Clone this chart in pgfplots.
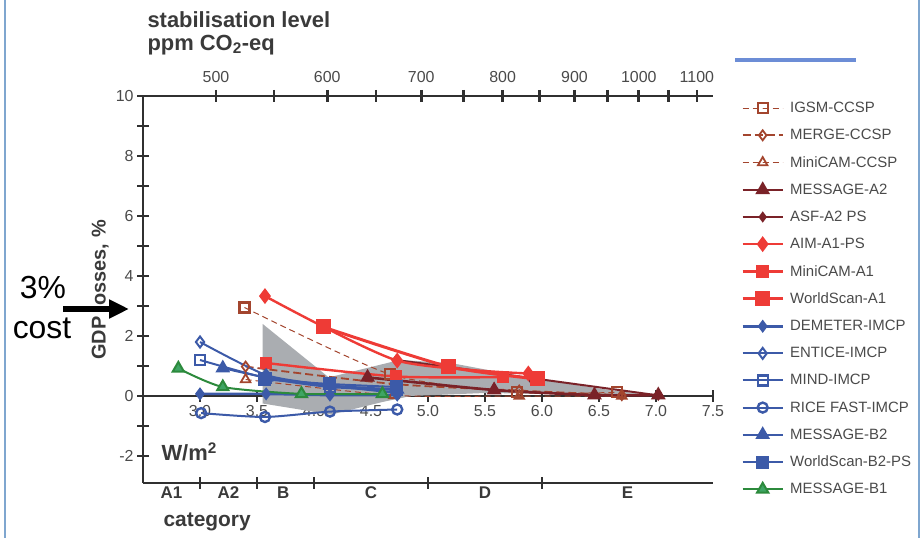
\documentclass[border=0pt]{standalone}
\usepackage{fontspec}
\setmainfont{Liberation Sans}
\usepackage{pgfplots}
\pgfplotsset{compat=1.18}
\usetikzlibrary{arrows.meta}

\definecolor{brn}{HTML}{A3452E}
\definecolor{dred}{HTML}{7A2228}
\definecolor{rd}{HTML}{EE3B36}
\definecolor{blu}{HTML}{3C5AA8}
\definecolor{grn}{HTML}{2C8A3C}
\definecolor{grnf}{HTML}{3FA564}
\definecolor{axc}{HTML}{303030}
\definecolor{txt}{HTML}{4A4A4A}
\definecolor{ttl}{HTML}{3A3A3A}
\definecolor{shade}{HTML}{AAADB1}
\definecolor{frame}{HTML}{7FA6CF}

\pgfplotsset{
  gdpframe/.style={
    at={(143bp,55bp)}, anchor=south west,
    scale only axis, width=570bp, height=387bp,
    xmin=2.5, xmax=7.5, ymin=-2.9, ymax=10,
    axis line style={line width=2.6bp, draw=axc},
    tick style={line width=2.6bp, draw=axc},
    tick align=center, major tick length=12bp, minor tick length=12bp,
    tick label style={font=\fontsize{16}{16}\selectfont, text=txt},
    /pgf/number format/assume math mode=true,
  },
  ln/.style={line width=2bp, smooth, tension=0.4},
}

\begin{document}
\begin{tikzpicture}
\useasboundingbox (0,0) rectangle (922bp,538bp);

% page decorations
\draw[frame, line width=1.5bp] (5bp,0) -- (5bp,538bp);
\draw[frame, line width=1.2bp] (919bp,0) -- (919bp,538bp);
\draw[frame!85!blue, line width=4bp] (735bp,478bp) -- (856bp,478bp);

% main axis: W/m2 line at zero
\begin{axis}[gdpframe,
  axis y line*=left, axis x line*=middle,
  xtick={2.5,3,...,7.5},
  xticklabel style={/pgf/number format/.cd, fixed, fixed zerofill, precision=1},
  ytick={-2,0,2,4,6,8,10},
  minor ytick={-1,1,3,5,7,9},
  legend cell align=left,
  legend style={draw=none, fill=none, at={(1,1)}, anchor=north west,
    xshift=25bp, yshift=-2bp, row sep=11.2bp,
    font=\fontsize{15}{15}\selectfont, text=txt,
    /tikz/every odd column/.append style={column sep=4bp}},
  legend image code/.code={\draw[mark repeat=2,mark phase=2,#1]
    plot coordinates {(0bp,0bp) (20bp,0bp) (40bp,0bp)};},
]
\addplot[fill=shade, draw=none, forget plot] coordinates {
  (3.55,2.4) (4.13,0.62) (4.75,1.2) (5.2,1.1) (5.9,0.6) (6.5,0.25) (7.0,0.0)
  (6.5,0.05) (5.5,0.1) (4.85,0.0) (4.6,-0.2) (4.15,-0.62) (3.55,-0.25)} -- cycle;

\addplot[ln, brn, line width=1bp, dash pattern=on 6bp off 4bp, mark=square, mark size=5bp,
  mark options={solid, fill=white, line width=2.2bp}] coordinates {
  (3.39,2.95) (4.67,0.72) (5.78,0.12) (6.66,0.12)};
\addlegendentry{IGSM-CCSP}
\addplot[ln, brn, line width=1.8bp, dash pattern=on 8bp off 4bp, mark=diamond, mark size=5bp,
  mark options={solid, fill=white, line width=1.8bp}] coordinates {
  (3.4,0.98) (4.7,0.4) (5.8,0.18) (6.7,0.03)};
\addlegendentry{MERGE-CCSP}
\addplot[ln, brn, line width=1bp, dash pattern=on 6bp off 4bp, mark=triangle, mark size=5.5bp,
  mark options={solid, fill=white, line width=1.8bp}] coordinates {
  (3.4,0.55) (4.7,0.02) (5.8,0.0) (6.7,0.0)};
\addlegendentry{MiniCAM-CCSP}
\addplot[ln, dred, line width=2.6bp, mark=triangle*, mark size=6bp] coordinates {
  (4.47,0.62) (5.58,0.2) (6.46,0.03) (7.02,0.03)};
\addlegendentry{MESSAGE-A2}
\addplot[ln, dred, line width=2bp, mark=diamond*, mark size=4bp] coordinates {
  (4.72,1.2) (5.9,0.6) (7.02,0.02)};
\addlegendentry{ASF-A2 PS}
\addplot[ln, rd, line width=2.4bp, mark=diamond*, mark size=6bp] coordinates {
  (3.57,3.33) (4.73,1.18) (5.88,0.75)};
\addlegendentry{AIM-A1-PS}
\addplot[ln, rd, line width=2.4bp, mark=square*, mark size=5bp] coordinates {
  (3.58,1.1) (4.72,0.65) (5.66,0.63)};
\addlegendentry{MiniCAM-A1}
\addplot[ln, rd, line width=3bp, mark=square*, mark size=6bp] coordinates {
  (4.08,2.3) (5.18,0.98) (5.96,0.57)};
\addlegendentry{WorldScan-A1}
\addplot[ln, blu, line width=2.6bp, mark=diamond*, mark size=4.5bp] coordinates {
  (3.0,0.07) (3.58,0.07) (4.14,0.03) (4.73,0.03)};
\addlegendentry{DEMETER-IMCP}
\addplot[ln, blu, mark=diamond, mark size=5.5bp, mark options={fill=white, line width=2bp}] coordinates {
  (3.0,1.8) (3.58,0.7) (4.14,0.35) (4.73,0.1)};
\addlegendentry{ENTICE-IMCP}
\addplot[ln, blu, mark=square, mark size=5bp, mark options={fill=white, line width=2.2bp}] coordinates {
  (3.0,1.2) (3.58,0.6) (4.14,0.3) (4.73,0.2)};
\addlegendentry{MIND-IMCP}
\addplot[ln, blu, mark=o, mark size=5bp, mark options={fill=white, line width=2.4bp}] coordinates {
  (3.01,-0.57) (3.57,-0.7) (4.14,-0.52) (4.73,-0.45)};
\addlegendentry{RICE FAST-IMCP}
\addplot[ln, blu, mark=triangle*, mark size=6.5bp] coordinates {
  (3.2,0.93) (3.58,0.62) (4.14,0.35) (4.73,0.22)};
\addlegendentry{MESSAGE-B2}
\addplot[ln, blu, mark=square*, mark size=5.5bp] coordinates {
  (3.57,0.55) (4.14,0.4) (4.72,0.3)};
\addlegendentry{WorldScan-B2-PS}
\addplot[ln, grn, mark=triangle*, mark size=6.5bp, mark options={fill=grnf, draw=grn}] coordinates {
  (2.81,0.92) (3.2,0.3) (3.89,0.07) (4.6,0.07)};
\addlegendentry{MESSAGE-B1}
\end{axis}

% top axis: stabilisation level, ppm CO2-eq (radiative forcing of each level)
\begin{axis}[gdpframe,
  axis x line*=top, axis y line=none,
  xtick={3.1404,3.6503,4.1158,4.5441,4.9405,5.3097,5.6549,5.9792,6.2850,6.5743,6.8487,7.1097,7.3586},
  xticklabels={500,,600,,700,,800,,900,,1000,,1100},
  xticklabel style={yshift=4bp},
]
\end{axis}

% bottom axis: category
\begin{axis}[gdpframe,
  axis x line*=bottom, axis y line=none,
  xtick={3,3.5,4,5,6}, xticklabels={},
  extra x ticks={2.75,3.25,3.73,4.5,5.5,6.75},
  extra x tick labels={A1,A2,B,C,D,E},
  extra x tick style={major tick length=0pt,
    tick label style={font=\bfseries\fontsize{17}{17}\selectfont, text=ttl}},
]
\end{axis}

\node[anchor=west, font=\bfseries\fontsize{22}{22}\selectfont, text=ttl] at (144bp,518bp) {stabilisation level};
\node[anchor=west, font=\bfseries\fontsize{22}{22}\selectfont, text=ttl] at (144bp,493bp) {ppm CO\textsubscript{2}-eq};
\node[rotate=90, font=\bfseries\fontsize{20}{20}\selectfont, text=ttl] at (100bp,248bp) {GDP losses, \%};
\node[anchor=west, font=\bfseries\fontsize{22}{22}\selectfont, text=ttl] at (158bp,86bp) {W/m\textsuperscript{2}};
\node[anchor=west, font=\bfseries\fontsize{21}{21}\selectfont, text=ttl] at (160bp,16bp) {category};
\node[font=\fontsize{32}{32}\selectfont] at (43bp,250bp) {3\%};
\node[font=\fontsize{32}{32}\selectfont] at (42bp,210bp) {cost};
\draw[-{Triangle[length=20bp,width=18bp]}, line width=6bp] (63bp,229bp) -- (129bp,229bp);
\end{tikzpicture}
\end{document}
